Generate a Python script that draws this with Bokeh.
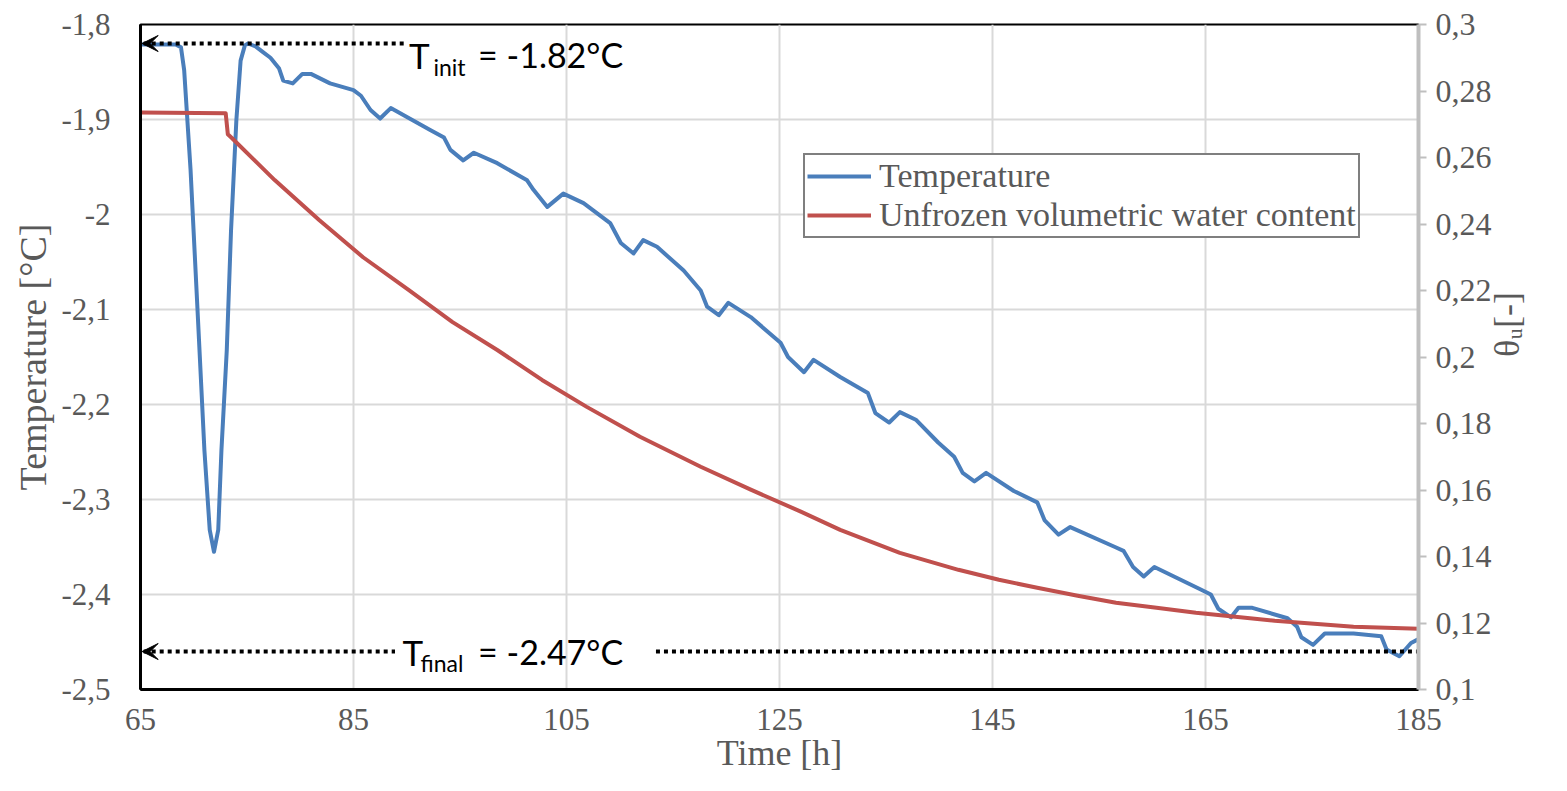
import math
from bokeh.plotting import figure
from bokeh.models import Range1d, LinearAxis, FixedTicker, Legend, LegendItem, Arrow, VeeHead
from bokeh.core.properties import value
from bokeh.embed import file_html
from bokeh.resources import INLINE

# ---------------- data ----------------
time_temp = [65.0, 68.3, 68.8, 69.1, 69.7, 70.4, 71.0, 71.5, 71.9, 72.3, 72.6, 73.1, 73.5, 74.0,
             74.4, 74.8, 75.1, 75.8, 76.5, 77.2, 78.0, 78.4, 79.3, 80.2, 81.0, 82.8, 85.0, 85.7,
             86.6, 87.5, 88.5, 92.2, 93.5, 94.1, 95.3, 96.3, 98.5, 101.3, 101.9, 103.2, 104.7,
             106.6, 109.1, 110.1, 111.3, 112.2, 113.5, 116.0, 117.6, 118.2, 119.3, 120.2, 122.3,
             125.1, 125.8, 127.3, 128.2, 130.7, 133.3, 134.0, 135.3, 136.3, 137.8, 139.9, 141.4,
             142.2, 143.3, 144.4, 147.0, 149.2, 149.9, 151.2, 152.3, 156.5, 157.3, 158.2, 159.2,
             160.2, 164.6, 165.5, 166.2, 167.4, 168.1, 169.4, 172.7, 173.6, 174.0, 175.1, 176.2,
             178.9, 181.5, 182.0, 183.2, 184.3, 185.0]
temperature = [-1.821, -1.821, -1.824, -1.848, -1.953, -2.111, -2.248, -2.332, -2.355, -2.332,
               -2.248, -2.143, -2.017, -1.901, -1.838, -1.822, -1.820, -1.823, -1.829, -1.835,
               -1.846, -1.859, -1.862, -1.852, -1.852, -1.862, -1.869, -1.875, -1.890, -1.899,
               -1.888, -1.911, -1.919, -1.932, -1.943, -1.935, -1.946, -1.964, -1.974, -1.992,
               -1.978, -1.988, -2.009, -2.030, -2.041, -2.027, -2.034, -2.059, -2.080, -2.097,
               -2.106, -2.093, -2.108, -2.135, -2.150, -2.166, -2.153, -2.171, -2.188, -2.209,
               -2.219, -2.208, -2.216, -2.240, -2.255, -2.272, -2.281, -2.272, -2.291, -2.303,
               -2.322, -2.337, -2.329, -2.350, -2.354, -2.371, -2.381, -2.371, -2.395, -2.400,
               -2.415, -2.424, -2.414, -2.414, -2.425, -2.434, -2.445, -2.453, -2.441, -2.441,
               -2.444, -2.458, -2.465, -2.451, -2.447]

time_theta = [65.0, 73.0, 73.2, 73.6, 77.6, 81.8, 85.9, 90.2, 94.3, 98.5, 102.7, 106.9, 111.9,
              117.6, 122.3, 127.0, 130.7, 136.3, 141.8, 145.6, 149.2, 153.0, 156.6, 160.4, 164.1,
              167.8, 171.5, 175.2, 178.9, 185.0]
theta_u = [0.2735, 0.2733, 0.2670, 0.2658, 0.2532, 0.2411, 0.2300, 0.2201, 0.2105, 0.2021,
           0.1931, 0.1850, 0.1760, 0.1670, 0.1601, 0.1535, 0.1480, 0.1411, 0.1360, 0.1330,
           0.1306, 0.1282, 0.1261, 0.1246, 0.1231, 0.1219, 0.1207, 0.1198, 0.1189, 0.1183]

x_ticks = [65, 85, 105, 125, 145, 165, 185]
temp_ticks = [-1.8, -1.9, -2.0, -2.1, -2.2, -2.3, -2.4, -2.5]
temp_tick_labels = ["-1,8", "-1,9", "-2", "-2,1", "-2,2", "-2,3", "-2,4", "-2,5"]
theta_ticks = [0.1, 0.12, 0.14, 0.16, 0.18, 0.2, 0.22, 0.24, 0.26, 0.28, 0.3]
theta_tick_labels = ["0,1", "0,12", "0,14", "0,16", "0,18", "0,2", "0,22", "0,24", "0,26", "0,28", "0,3"]

T_init = -1.82
T_final_line = -2.46
T_init_text = "= -1.82°C"
T_final_text = "= -2.47°C"

# ---------------- styles ----------------
BLUE = "#4A7EBB"
RED = "#C0504D"
GREY_TXT = "#595959"
SERIF = "Liberation Serif"
SANS = "Lato"

W, H = 1550, 775
p = figure(width=W, height=H, output_backend="svg", toolbar_location=None,
           x_range=Range1d(65, 185), y_range=Range1d(-2.5, -1.8),
           min_border_left=140, min_border_right=132, min_border_top=24, min_border_bottom=86)
p.extra_y_ranges = {"theta": Range1d(0.1, 0.3)}
p.background_fill_color = "white"
p.border_fill_color = "white"
p.outline_line_color = "black"
p.outline_line_width = 2

# grids
p.xgrid.ticker = FixedTicker(ticks=x_ticks)
p.ygrid.ticker = FixedTicker(ticks=temp_ticks)
for g in (p.xgrid, p.ygrid):
    g.grid_line_color = "#D9D9D9"
    g.grid_line_width = 2

# bottom axis
xa = p.below[0]
xa.ticker = FixedTicker(ticks=x_ticks)
xa.axis_line_color = "black"
xa.axis_line_width = 3
xa.major_tick_line_color = None
xa.minor_tick_line_color = None
xa.major_label_text_font = SERIF
xa.major_label_text_font_size = "31px"
xa.major_label_text_color = GREY_TXT
xa.major_label_standoff = 13
xa.axis_label = "Time [h]"
xa.axis_label_text_font = SERIF
xa.axis_label_text_font_style = "normal"
xa.axis_label_text_font_size = "36px"
xa.axis_label_text_color = GREY_TXT
xa.axis_label_standoff = 0

# left axis
ya = p.left[0]
ya.ticker = FixedTicker(ticks=temp_ticks)
ya.major_label_overrides = dict(zip(temp_ticks, temp_tick_labels))
ya.axis_line_color = "black"
ya.axis_line_width = 3
ya.major_tick_line_color = None
ya.minor_tick_line_color = None
ya.major_label_text_font = SERIF
ya.major_label_text_font_size = "31px"
ya.major_label_text_color = GREY_TXT
ya.major_label_standoff = 24
ya.axis_label = "Temperature [°C]"
ya.axis_label_text_font = SERIF
ya.axis_label_text_font_style = "normal"
ya.axis_label_text_font_size = "38px"
ya.axis_label_text_color = GREY_TXT
ya.axis_label_standoff = 4

# right axis
ra = LinearAxis(y_range_name="theta", ticker=FixedTicker(ticks=theta_ticks))
ra.major_label_overrides = dict(zip(theta_ticks, theta_tick_labels))
ra.axis_line_color = "#BFBFBF"
ra.axis_line_width = 4
ra.major_tick_line_color = "#BFBFBF"
ra.major_tick_line_width = 2
ra.major_tick_out = 8
ra.major_tick_in = 0
ra.minor_tick_line_color = None
ra.major_label_text_font = SERIF
ra.major_label_text_font_size = "32px"
ra.major_label_text_color = GREY_TXT
ra.major_label_standoff = 9
ra.axis_label = "θᵤ[-]"
ra.axis_label_orientation = math.pi / 2
ra.axis_label_text_font = SERIF
ra.axis_label_text_font_style = "normal"
ra.axis_label_text_font_size = "36px"
ra.axis_label_text_color = GREY_TXT
ra.axis_label_standoff = 12
p.add_layout(ra, "right")

# data lines
r_temp = p.line(time_temp, temperature, line_color=BLUE, line_width=4, line_join="round")
r_theta = p.line(time_theta, theta_u, y_range_name="theta", line_color=RED, line_width=4,
                 line_join="round")

# annotation dotted lines
p.line([65.3, 89.9], [T_init, T_init], line_color="black", line_width=4, line_dash="4 4")
p.line([65.3, 88.9], [T_final_line, T_final_line], line_color="black", line_width=4, line_dash="4 4")
p.line([113.4, 185], [T_final_line, T_final_line], line_color="black", line_width=4, line_dash="4 4")
for yv in (T_init, T_final_line):
    p.add_layout(Arrow(end=VeeHead(size=16, fill_color="black", line_color="black", line_width=1),
                       x_start=67.0, y_start=yv, x_end=65.15, y_end=yv,
                       line_color="black", line_width=0))

# annotation texts
p.text(x=[90.2], y=[T_init], text=["T"], text_font=value(SANS), text_font_size="35px",
       text_color="black", text_baseline="middle", y_offset=11)
p.text(x=[92.5], y=[T_init], text=["init"], text_font=value(SANS), text_font_size="23px",
       text_color="black", text_baseline="middle", y_offset=23)
p.text(x=[96.7], y=[T_init], text=[T_init_text], text_font=value(SANS), text_font_size="34px",
       text_color="black", text_baseline="middle", y_offset=11)

p.text(x=[89.6], y=[T_final_line], text=["T"], text_font=value(SANS), text_font_size="35px",
       text_color="black", text_baseline="middle", y_offset=0)
p.text(x=[91.3], y=[T_final_line], text=["final"], text_font=value(SANS), text_font_size="23px",
       text_color="black", text_baseline="middle", y_offset=11)
p.text(x=[96.7], y=[T_final_line], text=[T_final_text], text_font=value(SANS), text_font_size="34px",
       text_color="black", text_baseline="middle", y_offset=0)

# legend
legend = Legend(items=[LegendItem(label="Temperature", renderers=[r_temp]),
                       LegendItem(label="Unfrozen volumetric water content", renderers=[r_theta])],
                location=(663, 451))
legend.border_line_color = "black"
legend.border_line_width = 2
legend.background_fill_color = "white"
legend.background_fill_alpha = 1
legend.label_text_font = SERIF
legend.label_text_font_size = "34px"
legend.label_text_color = GREY_TXT
legend.glyph_width = 64
legend.glyph_height = 34
legend.label_height = 34
legend.label_standoff = 8
legend.spacing = 1
legend.padding = 2
legend.margin = 0
p.add_layout(legend)

open("out.html", "w").write(file_html(p, INLINE))
